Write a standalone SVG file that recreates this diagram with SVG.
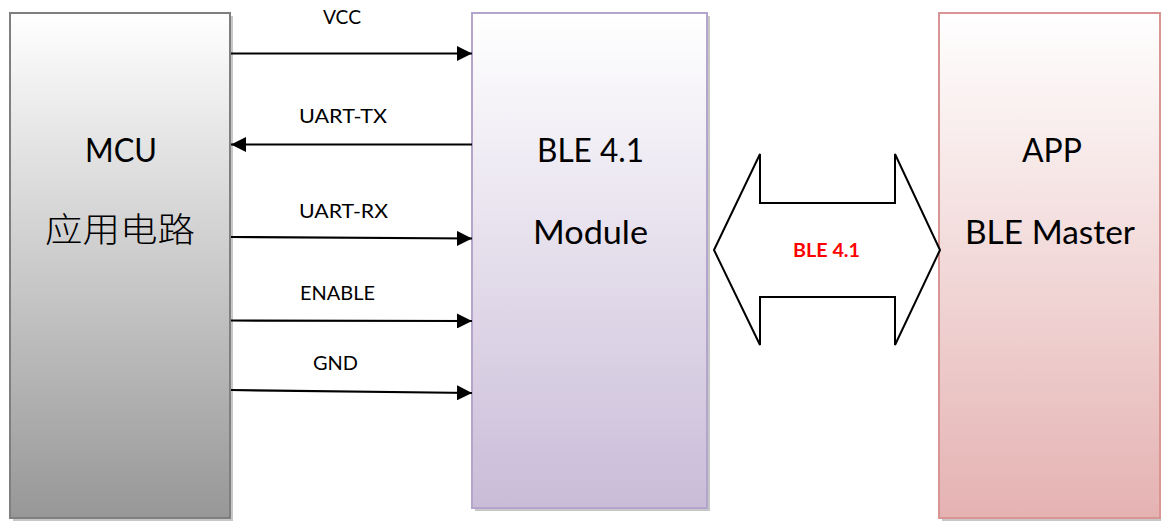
<svg xmlns="http://www.w3.org/2000/svg" width="1161" height="525" viewBox="0 0 1161 525">
<style>
.big{font-family:Lato,"Liberation Sans","Noto Sans CJK SC",sans-serif;font-size:32px;fill:#000}
.cjk{font-family:"Noto Sans CJK SC",sans-serif;font-size:34px;font-weight:300;fill:#000}
.lbl{font-family:Lato,"Liberation Sans",sans-serif;font-size:20px;fill:#000}
.red{font-family:Lato,"Liberation Sans",sans-serif;font-size:19px;font-weight:bold;fill:#ff0000}
.wire{stroke:#000;stroke-width:2.2;fill:none}
.shadow{fill:#000;opacity:0.22}
</style>
<defs>
<linearGradient id="gMcu" x1="0" y1="0" x2="0" y2="1">
<stop offset="0" stop-color="#ffffff"/><stop offset="1" stop-color="#979797"/>
</linearGradient>
<linearGradient id="gBle" x1="0" y1="0" x2="0" y2="1">
<stop offset="0" stop-color="#ffffff"/><stop offset="1" stop-color="#c9bcd8"/>
</linearGradient>
<linearGradient id="gApp" x1="0" y1="0" x2="0" y2="1">
<stop offset="0" stop-color="#ffffff"/><stop offset="1" stop-color="#e5b2b2"/>
</linearGradient>
<marker id="ah" viewBox="0 0 15 15" refX="15" refY="7.5" markerWidth="15" markerHeight="15" markerUnits="userSpaceOnUse" orient="auto">
<path d="M0,0 L15,7.5 L0,15 Z" fill="#000"/>
</marker>
</defs>

<g id="mcu">
<rect class="shadow" x="13" y="16" width="220" height="505"/>
<rect x="10" y="13" width="220" height="505" fill="url(#gMcu)" stroke="#7f7f7f" stroke-width="2"/>
<text class="big" x="85" y="162" textLength="72" lengthAdjust="spacingAndGlyphs">MCU</text>
<text class="cjk" x="45" y="242" textLength="150" lengthAdjust="spacingAndGlyphs">应用电路</text>
</g>

<g id="ble">
<rect class="shadow" x="475" y="16" width="235" height="495"/>
<rect x="472" y="13" width="235" height="495" fill="url(#gBle)" stroke="#b4a5cc" stroke-width="2"/>
<text class="big" x="537" y="162" textLength="107" lengthAdjust="spacingAndGlyphs">BLE 4.1</text>
<text class="big" x="533" y="244" textLength="115" lengthAdjust="spacingAndGlyphs">Module</text>
</g>

<g id="app">
<rect class="shadow" x="942" y="16" width="221" height="505"/>
<rect x="939" y="13" width="221" height="505" fill="url(#gApp)" stroke="#d99594" stroke-width="2"/>
<text class="big" x="1022" y="162" textLength="60" lengthAdjust="spacingAndGlyphs">APP</text>
<text class="big" x="965" y="244" textLength="170" lengthAdjust="spacingAndGlyphs">BLE Master</text>
</g>

<g id="link">
<path d="M714,250 L760,154 L760,203 L895,203 L895,154 L940,250 L895,345 L895,297 L760,297 L760,345 Z" fill="#ffffff" stroke="#000" stroke-width="2"/>
<text class="red" x="793" y="256.5" textLength="67" lengthAdjust="spacingAndGlyphs">BLE 4.1</text>
</g>

<g id="connectors">
<line class="wire" x1="231" y1="53.5" x2="472" y2="53.5" marker-end="url(#ah)"/>
<line class="wire" x1="472" y1="144.5" x2="231" y2="144.5" marker-end="url(#ah)"/>
<line class="wire" x1="231" y1="237" x2="472" y2="238.5" marker-end="url(#ah)"/>
<line class="wire" x1="231" y1="320.5" x2="472" y2="321" marker-end="url(#ah)"/>
<line class="wire" x1="231" y1="390" x2="472" y2="393" marker-end="url(#ah)"/>
<text class="lbl" x="323" y="24" textLength="38" lengthAdjust="spacingAndGlyphs">VCC</text>
<text class="lbl" x="299" y="123" textLength="88" lengthAdjust="spacingAndGlyphs">UART-TX</text>
<text class="lbl" x="299" y="217.5" textLength="89" lengthAdjust="spacingAndGlyphs">UART-RX</text>
<text class="lbl" x="300" y="300" textLength="75" lengthAdjust="spacingAndGlyphs">ENABLE</text>
<text class="lbl" x="313" y="370" textLength="45" lengthAdjust="spacingAndGlyphs">GND</text>
</g>
</svg>
